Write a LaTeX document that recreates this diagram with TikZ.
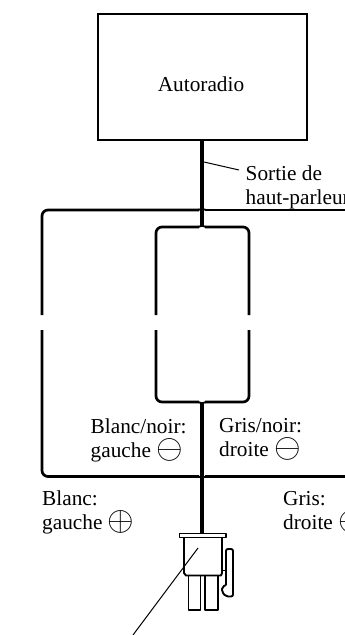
\documentclass[tikz,border=0pt]{standalone}
\usepackage{graphicx}
\usepackage{fontspec}
\setmainfont{Liberation Serif}
\newcommand{\cminus}{\smash{\raisebox{-1pt}{\scalebox{1.65}{$\ominus$}}}}
\newcommand{\cplus}{\smash{\raisebox{-1pt}{\scalebox{1.65}{$\oplus$}}}}
\tikzset{
  wire/.style={line width=2.7pt,line join=round,rounded corners=6pt},
  trunk/.style={line width=3.4pt},
  fillet/.style={line width=1.8pt},
  part/.style={line width=1.9pt,line join=round},
  leader/.style={line width=1pt},
  label/.style={font=\fontsize{21.3}{24}\selectfont,align=left,anchor=north west,inner sep=0pt}
}
\begin{document}
\begin{tikzpicture}[x=1pt,y=-1pt]
\useasboundingbox (0,0) rectangle (345,635);
\node[draw,line width=2pt,inner sep=0pt] (radio) at (202.5,77) {\rule{0pt}{126pt}\rule{209pt}{0pt}};
\node[font=\fontsize{21.3}{24}\selectfont,inner sep=0pt] (radiotext) at (201,84) {Autoradio};
\node[label] (sortie) at (245.5,165.5) {Sortie de\\haut-parleur};
\node[label] (blancnoir) at (90.5,418.5) {Blanc/noir:\\gauche \cminus};
\node[label] (grisnoir) at (219,418.5) {Gris/noir:\\droite \cminus};
\node[label] (blanc) at (42,491) {Blanc:\\gauche \cplus};
\node[label] (gris) at (283,491) {Gris:\\droite \cplus};
\coordinate (j1) at (202,210);
\coordinate (j2) at (202,227);
\coordinate (j3) at (202,402);
\coordinate (j4) at (202,476);
\coordinate (plug) at (202,534);
\coordinate (right1) at (345,210);
\coordinate (right2) at (345,476.5);
% trunks
\draw[trunk] (radio.south -| j1) -- (j1);
\draw[trunk] (j3) -- (j4);
\draw[trunk] (j4) -- (plug);
\draw[trunk] (j1) -- (j2);
% outer loop
\draw[wire] (199,210) -- (42,210) -- (42,315);
\draw[wire] (42,330) -- (42,476.5) -- (199,476.5);
\draw[wire] (205,210) -- (right1);
\draw[wire] (205,476.5) -- (right2);
% inner loop
\draw[wire] (199,227) -- (156,227) -- (156,315);
\draw[wire] (156,330) -- (156,402) -- (199,402);
\draw[wire] (205,227) -- (249,227) -- (249,315);
\draw[wire] (249,330) -- (249,402) -- (205,402);
% small junction fillets
\foreach \s in {-1,1} {
  \draw[fillet] (202+\s*4,210) .. controls (202+\s*2,210) and (202,209) .. (202,206);
  \draw[fillet] (202+\s*4,227) .. controls (202+\s*2,227) and (202,226) .. (202,223);
  \draw[fillet] (202+\s*4,402) .. controls (202+\s*2,402) and (202,403) .. (202,406);
  \draw[fillet] (202+\s*4,476.5) .. controls (202+\s*2,476.5) and (202,477.5) .. (202,480);
}
% plug
\draw[part] (179.5,533.5) -- (226,533.5) -- (226,537.5) -- (179.5,537.5) -- cycle;
\draw[part] (184,537.5) -- (184,573) -- (186,575.5) -- (221,575.5) -- (222,573) -- (222,537.5);
\draw[part] (188.5,575.5) -- (188.5,610) -- (200.5,610) -- (200.5,575.5);
\draw[part] (205,575.5) -- (205,610) -- (218,610) -- (218,575.5);
\draw[part] (222,570.5) -- (226,570.5);
\draw[part,rounded corners=2pt] (226,585) -- (226,549) -- (233,549) -- (233,596.5) -- (226,596.5) -- (222,592) -- (222,587) -- (226,585);
% leaders
\coordinate (l1) at (198,548);
\coordinate (l2) at (133,635);
\draw[leader] (l1) -- (l2);
\coordinate (s1) at (204,162);
\coordinate (s2) at (239,170);
\draw[leader] (s1) -- (s2);
\end{tikzpicture}
\end{document}
